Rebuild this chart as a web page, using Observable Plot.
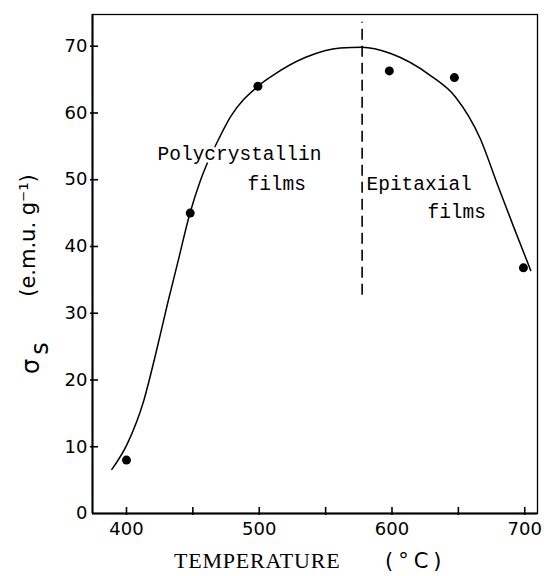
<!DOCTYPE html>
<html>
<head>
<meta charset="utf-8">
<script src="https://cdn.jsdelivr.net/npm/d3@7"></script>
<script src="https://cdn.jsdelivr.net/npm/@observablehq/plot@0.6"></script>
<style>
  html, body { margin: 0; padding: 0; background: #fff; }
  #chart svg { display: block; background: #fff; }
  .xl1 text { letter-spacing: 0.8px; }
  .xl2 text { letter-spacing: 5px; }
</style>
</head>
<body>
<div id="chart"></div>
<script>
// Measured points: substrate temperature (°C) vs saturation magnetisation σs (e.m.u. g^-1)
const temperature = [400, 448, 499, 598, 647, 699];
const sigma = [8.0, 45.0, 64.0, 66.3, 65.3, 36.8];

// Hand-drawn fitted curve
const curveT = [389, 400.5, 413, 422, 431, 438.5, 447.7, 455.7, 462, 469.5, 478.3, 499, 510, 535, 561, 577.5, 599, 629, 647.8, 666.6, 679.2, 691.7, 704.5];
const curveS = [6.6, 10.4, 16.9, 23.9, 31.5, 37.5, 44.9, 49.9, 53.0, 56.1, 59.4, 64.0, 65.6, 68.35, 69.75, 69.85, 68.9, 65.6, 62.4, 56.1, 49.4, 42.9, 36.4];

// Boundary between polycrystalline and epitaxial films
const boundaryT = 577.5;
const boundarySpan = [32.7, 73.6];

// Region annotations (anchor = left end of baseline)
const annText = ["Polycrystallin", "films", "Epitaxial", "films"];
const annT = [423.4, 491.1, 580.8, 626.7];
const annS = [53.0, 48.5, 48.5, 44.3];

const xTicks = [400, 450, 500, 550, 600, 650, 700];
const xLabelTicks = [400, 500, 600, 700];
const yTicks = [0, 10, 20, 30, 40, 50, 60, 70];
const xDomain = [374.4, 709.6];
const yDomain = [0, 74.75];

const points = temperature.map((t, i) => ({t, s: sigma[i]}));
const curve = curveT.map((t, i) => ({t, s: curveS[i]}));
const ann = annText.map((text, i) => ({text, t: annT[i], s: annS[i]}));

const W = 544, H = 576, mL = 92, mR = 7, mT = 14, mB = 63;
const tickIn = 6, tickOut = 2; // px: ticks reach mostly into the frame
// data units per pixel of each scale
const unitY = (yDomain[1] - yDomain[0]) / (H - mT - mB);
const unitX = (xDomain[1] - xDomain[0]) / (W - mL - mR);

const chart = Plot.plot({
  width: W,
  height: H,
  marginLeft: mL,
  marginRight: mR,
  marginTop: mT,
  marginBottom: mB,
  style: {background: "#fff", color: "#000"},
  x: {domain: xDomain, label: null},
  y: {domain: yDomain, label: null},
  marks: [
    Plot.frame({stroke: "#000", strokeWidth: 1.3}),
    Plot.ruleY([yDomain[0]], {stroke: "#000", strokeWidth: 2}),
    Plot.ruleX([xDomain[0]], {stroke: "#000", strokeWidth: 2}),
    // inward ticks
    Plot.ruleX(xTicks, {x: d => d, y1: yDomain[0] - tickOut * unitY, y2: yDomain[0] + tickIn * unitY, stroke: "#000", strokeWidth: 1.6}),
    Plot.ruleY(yTicks.slice(1), {y: d => d, x1: xDomain[0] - tickOut * unitX, x2: xDomain[0] + tickIn * unitX, stroke: "#000", strokeWidth: 1.6}),
    // tick labels
    Plot.axisX({ticks: xLabelTicks, tickSize: 0, tickPadding: 9,
      fontSize: 18, fontFamily: "DejaVu Sans", fill: "#000"}),
    Plot.axisY({ticks: yTicks, tickSize: 0, tickPadding: 5,
      fontSize: 18, fontFamily: "DejaVu Sans", fill: "#000"}),
    Plot.ruleX([boundaryT], {y1: boundarySpan[0], y2: boundarySpan[1], stroke: "#000", strokeWidth: 1.6, strokeDasharray: "11,6"}),
    Plot.line(curve, {x: "t", y: "s", curve: "monotone-x", stroke: "#000", strokeWidth: 1.5}),
    Plot.text(ann, {x: "t", y: "s", text: "text", textAnchor: "start", lineAnchor: "bottom",
      fontFamily: "Liberation Mono, Courier New, monospace", fontSize: 19.5,
      fill: "#000", stroke: "#fff", strokeWidth: 6}),
    Plot.dot(points, {x: "t", y: "s", r: 4.5, fill: "#000", stroke: "none"}),
    // y-axis label
    Plot.text(["(e.m.u. g⁻¹)"], {frameAnchor: "left", dx: -64, dy: -28.5, rotate: -90,
      textAnchor: "middle", lineAnchor: "middle", fontFamily: "DejaVu Sans", fontSize: 21, fill: "#000"}),
    Plot.text(["σ"], {frameAnchor: "left", dx: -61, dy: 102.5, rotate: -90,
      textAnchor: "middle", lineAnchor: "middle", fontFamily: "DejaVu Sans", fontSize: 24, fill: "#000"}),
    Plot.text(["s"], {frameAnchor: "left", dx: -52, dy: 84.5, rotate: -90,
      textAnchor: "middle", lineAnchor: "middle", fontFamily: "DejaVu Sans", fontSize: 24, fill: "#000"}),
    // x-axis label
    Plot.text(["TEMPERATURE"], {frameAnchor: "bottom", dx: -141, dy: 54, className: "xl1",
      textAnchor: "start", lineAnchor: "bottom", fontFamily: "Liberation Serif", fontSize: 22, fill: "#000"}),
    Plot.text(["(°C)"], {frameAnchor: "bottom", dx: 70, dy: 54, className: "xl2",
      textAnchor: "start", lineAnchor: "bottom", fontFamily: "DejaVu Sans", fontSize: 21, fill: "#000"})
  ]
});
document.getElementById("chart").appendChild(chart);
</script>
</body>
</html>
